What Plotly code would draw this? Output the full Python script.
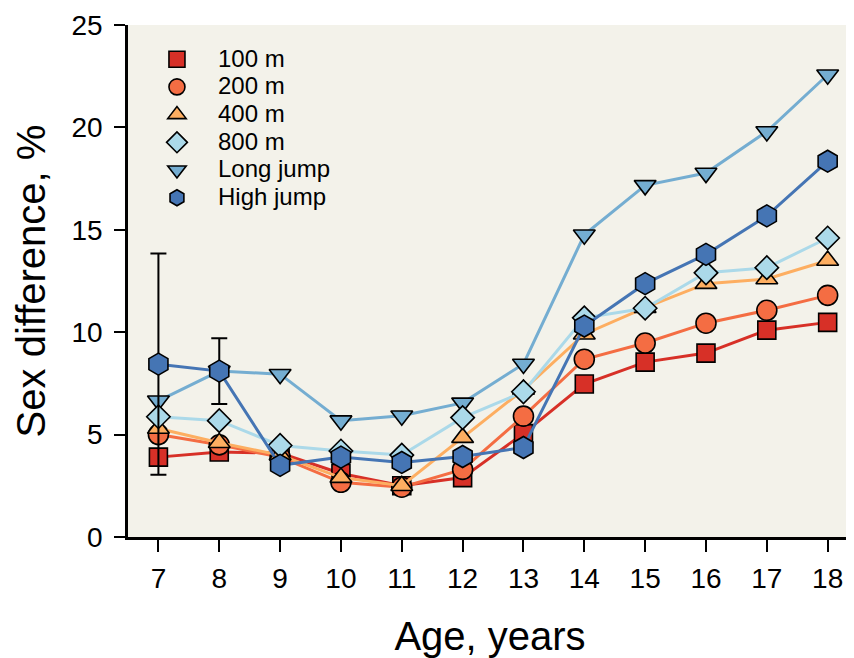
import plotly.graph_objects as go

ages = [7, 8, 9, 10, 11, 12, 13, 14, 15, 16, 17, 18]
m100 = [3.9, 4.15, 4.1, 3.1, 2.5, 2.9, 5.05, 7.47, 8.54, 8.98, 10.1, 10.48]
m200 = [5.0, 4.5, 3.9, 2.67, 2.43, 3.3, 5.9, 8.68, 9.47, 10.44, 11.07, 11.8]
m400 = [5.3, 4.6, 4.0, 2.9, 2.5, 4.85, 7.2, 9.9, 11.2, 12.37, 12.6, 13.5]
m800 = [5.87, 5.68, 4.47, 4.2, 4.0, 5.83, 7.09, 10.7, 11.17, 12.9, 13.15, 14.6]
long_jump = [6.65, 8.1, 7.95, 5.68, 5.92, 6.55, 8.45, 14.76, 17.17, 17.77, 19.8, 22.57]
high_jump = [8.44, 8.1, 3.5, 3.9, 3.64, 3.93, 4.37, 10.3, 12.37, 13.8, 15.68, 18.35]
high_jump_err = [5.4, 1.6, None, None, None, None, None, None, None, None, None, None]

y_ticks = [0, 5, 10, 15, 20, 25]

series = [
    # name, values, color, symbol, size, legendrank, error
    ("100 m", m100, "#D73027", "square", 18, 1, None),
    ("200 m", m200, "#F46D43", "circle", 20, 2, None),
    ("400 m", m400, "#FDAE61", "triangle-up", 19, 3, None),
    ("Long jump", long_jump, "#74ADD1", "triangle-down", 19, 5, None),
    ("800 m", m800, "#ABD9E9", "diamond", 18, 4, None),
    ("High jump", high_jump, "#4575B4", "hexagon", 22, 6, high_jump_err),
]

font_family = "Liberation Sans, Arial, sans-serif"
fig = go.Figure()

for name, vals, color, sym, size, rank, err in series:
    kw = {}
    if err is not None:
        kw["error_y"] = dict(type="data", array=err, visible=True,
                             color="black", thickness=2, width=8)
    fig.add_trace(go.Scatter(
        x=ages, y=vals, mode="lines+markers", name=name,
        line=dict(color=color, width=3),
        marker=dict(symbol=sym, size=size, color=color,
                    line=dict(color="black", width=1.6)),
        showlegend=False, hoverinfo="skip", **kw))

for name, vals, color, sym, size, rank, err in series:
    fig.add_trace(go.Scatter(
        x=[None], y=[None], mode="markers",
        name='<span style="font-size:24px">' + name + '</span>',
        marker=dict(symbol=sym, size=size, color=color,
                    line=dict(color="black", width=1.6)),
        legendrank=rank, showlegend=True))

fig.update_layout(
    width=846, height=650,
    margin=dict(l=120, r=2, t=14, b=121),
    paper_bgcolor="white",
    plot_bgcolor="#F3F2EA",
    font=dict(family=font_family, color="black"),
    legend=dict(x=0.011, y=0.970, xanchor="left", yanchor="top",
                bgcolor="rgba(0,0,0,0)", font=dict(size=19, family=font_family),
                itemsizing="trace", itemwidth=72, tracegroupgap=0),
    xaxis=dict(
        range=[6.5, 18.4], tickvals=ages, ticktext=[str(a) for a in ages],
        showgrid=False, zeroline=False, showline=True, linecolor="black", linewidth=2.5,
        ticks="outside", ticklen=12, tickwidth=2, tickcolor="black",
        tickfont=dict(size=28, family=font_family), ticklabelstandoff=3,
        ticklabeloverflow="allow",
        title=dict(text="Age, years", font=dict(size=40, family=font_family), standoff=30),
    ),
    yaxis=dict(
        range=[0, 25], tickvals=y_ticks,
        showgrid=False, zeroline=False, showline=True, linecolor="black", linewidth=2.5,
        ticks="outside", ticklen=11, tickwidth=2, tickcolor="black",
        tickfont=dict(size=28, family=font_family), ticklabelstandoff=6,
        ticklabeloverflow="allow",
        title=dict(text="Sex difference, %", font=dict(size=40, family=font_family), standoff=14),
    ),
)

fig.write_html("out.html")
